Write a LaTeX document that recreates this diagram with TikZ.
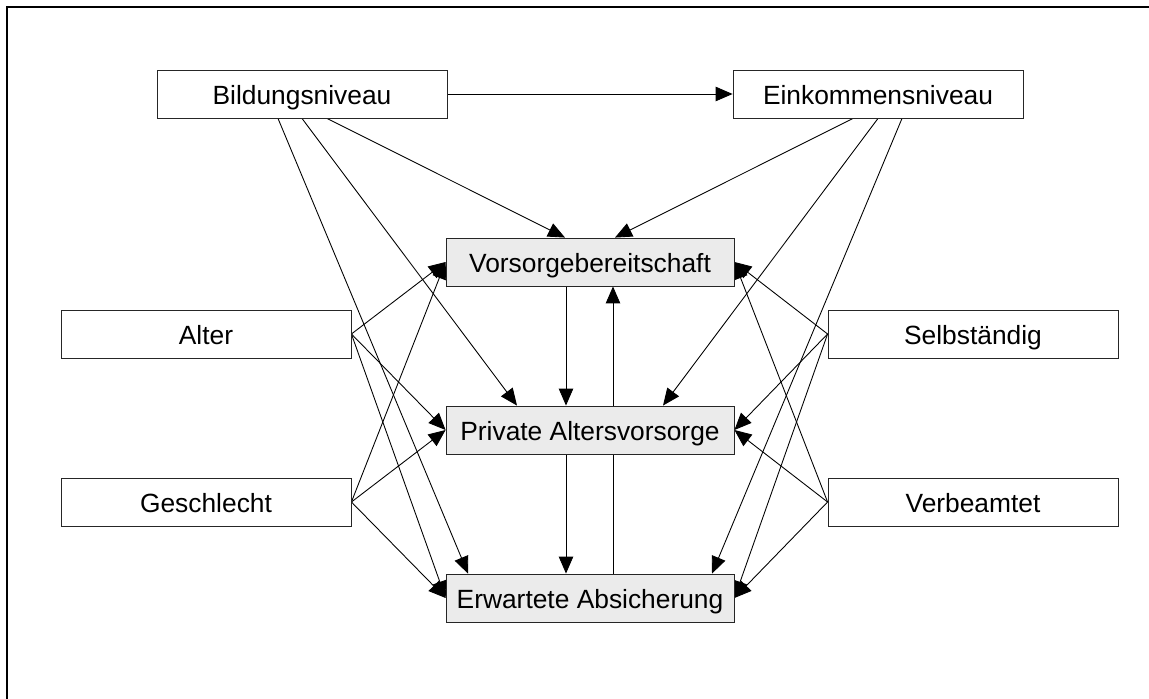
\documentclass[tikz,border=0pt]{standalone}
\usepackage{fontspec}
\setmainfont{Liberation Sans}
\usetikzlibrary{arrows.meta,calc,backgrounds}

\begin{document}
\begin{tikzpicture}[x=0.02cm,y=-0.02cm,
  box/.style={draw=black!85, line width=0.5pt, fill=white, minimum width=5.8cm,
    minimum height=0.96cm, inner sep=0pt, text height=2.8ex, text depth=0.6ex,
    font=\fontsize{15}{18}\selectfont},
  zielbox/.style={box, fill=black!8, minimum width=5.76cm},
  pfeil/.style={-{Triangle[length=0.34cm,width=0.29cm]}, line width=0.5pt}]
\useasboundingbox (0,0) rectangle (1149,699);
% Rahmen
\draw[line width=1.5pt] (7,699) -- (7,7) -- (1149,7);
% Einflussgroessen
\node[box] (bildung) at (302,94) {Bildungsniveau};
\node[box] (einkommen) at (878,94) {Einkommensniveau};
\node[box] (alter) at (206,334) {Alter};
\node[box] (geschlecht) at (206,502) {Geschlecht};
\node[box] (selbst) at (973,334) {Selbständig};
\node[box] (verbeamt) at (973,502) {Verbeamtet};
% Zielgroessen
\node[zielbox] (vorsorge) at (590,262) {Vorsorgebereitschaft};
\node[zielbox] (privat) at (590,430) {Private Altersvorsorge};
\node[zielbox] (erwartet) at (590,598) {Erwartete Absicherung};
% Pfeile
\begin{scope}[on background layer]
\draw[pfeil] (bildung.east) -- (einkommen.west);
\draw[pfeil] ($(bildung.south)+(25,0)$) -- ($(vorsorge.north)+(-25,0)$);
\draw[pfeil] (bildung.south) -- ($(privat.north)+(-73,0)$);
\draw[pfeil] ($(bildung.south)+(-24,0)$) -- ($(erwartet.north)+(-122,0)$);
\draw[pfeil] ($(einkommen.south)+(-25,0)$) -- ($(vorsorge.north)+(25,0)$);
\draw[pfeil] (einkommen.south) -- ($(privat.north)+(73,0)$);
\draw[pfeil] ($(einkommen.south)+(24,0)$) -- ($(erwartet.north)+(122,0)$);
\foreach \von in {alter,geschlecht} {
  \foreach \nach in {vorsorge,privat,erwartet}
    \draw[pfeil] (\von.east) -- (\nach.west);
}
\foreach \von in {selbst,verbeamt} {
  \foreach \nach in {vorsorge,privat,erwartet}
    \draw[pfeil] (\von.west) -- (\nach.east);
}
\draw[pfeil] ($(vorsorge.south)+(-24,0)$) -- ($(privat.north)+(-24,0)$);
\draw[pfeil] ($(privat.south)+(-24,0)$) -- ($(erwartet.north)+(-24,0)$);
\draw[pfeil] ($(erwartet.north)+(23,0)$) -- ($(vorsorge.south)+(23,0)$);
\end{scope}
\end{tikzpicture}
\end{document}
